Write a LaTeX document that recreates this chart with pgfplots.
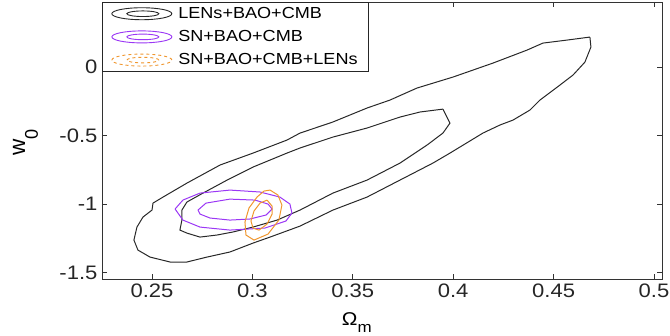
\documentclass[border=0pt]{standalone}
\usepackage{fontspec}
\setmainfont[FakeStretch=1.13]{Liberation Sans}
\usepackage{pgfplots}
\pgfplotsset{compat=1.18}
\definecolor{cblack}{RGB}{40,40,40}
\definecolor{cpurple}{RGB}{155,55,245}
\definecolor{corange}{RGB}{240,150,45}
\pgfplotsset{ellipselegend/.style={legend image code/.code={%
  \draw[##1] (30pt,0pt) ellipse [x radius=30pt, y radius=6pt];
  \draw[##1] (31pt,0pt) ellipse [x radius=16pt, y radius=2.8pt];}}}
\begin{document}
\begin{tikzpicture}
\useasboundingbox (-102pt,-57pt) rectangle (568pt,279pt);
\begin{axis}[
  at={(0,0)}, anchor=south west,
  width=560pt, height=277pt, scale only axis,
  xmin=0.2251, xmax=0.504, ymin=-1.547, ymax=0.475,
  xtick={0.25,0.3,0.35,0.4,0.45,0.5},
  xticklabels={0.25,0.3,0.35,0.4,0.45,0.5},
  ytick={-1.5,-1,-0.5,0},
  yticklabels={-1.5,-1,-0.5,0},
  tick align=inside, major tick length=5pt,
  axis line style={black!80, line width=0.8pt},
  every tick/.style={black!80, line width=0.8pt},
  ticklabel style={font=\fontsize{19.5}{20}\selectfont, text=black!85},
  xticklabel style={yshift=-1pt},
  yticklabel style={xshift=-1pt},
  xlabel={Ω\raisebox{-7.5pt}{\fontsize{15}{15}\selectfont m}},
  xlabel style={at={(axis description cs:0.455,0)}, anchor=north, yshift=-30pt, font=\fontsize{18.5}{20}\selectfont},
  ylabel={\scalebox{1}[1.15]{w\raisebox{-11pt}{\fontsize{16}{16}\selectfont 0}}},
  ylabel style={at={(axis description cs:-0.1366,0.493)}, anchor=center, font=\fontsize{20}{20}\selectfont},
  legend cell align=left,
  legend style={at={(axis description cs:0,1)}, anchor=north west, draw=black!85, line width=0.8pt, fill=white,
    font=\fontsize{16}{17}\selectfont, inner xsep=9pt, inner ysep=3pt, row sep=6.5pt,
    nodes={inner sep=2pt}, column sep=4pt},
]
\addlegendimage{cblack, line width=0.9pt, ellipselegend}
\addlegendentry{LENs+BAO+CMB}
\addlegendimage{cpurple, line width=0.9pt, ellipselegend}
\addlegendentry{SN+BAO+CMB}
\addlegendimage{corange, line width=0.9pt, dashed, ellipselegend}
\addlegendentry{SN+BAO+CMB+LENs}
% LENs+BAO+CMB outer
\addplot[cblack, line width=1pt, forget plot] coordinates {
(0.4681,0.219) (0.4567,0.197) (0.4447,0.175) (0.4368,0.124) (0.4198,0.029)
(0.3999,-0.073) (0.3820,-0.153) (0.3685,-0.241) (0.3571,-0.299) (0.3401,-0.401)
(0.3237,-0.482) (0.3172,-0.533) (0.3003,-0.628) (0.2839,-0.715) (0.2674,-0.847)
(0.2555,-0.949) (0.2505,-0.993) (0.2500,-1.044) (0.2455,-1.095) (0.2425,-1.168)
(0.2410,-1.263) (0.2430,-1.336) (0.2490,-1.387) (0.2590,-1.423) (0.2674,-1.423)
(0.2774,-1.387) (0.2888,-1.350) (0.3003,-1.285) (0.3088,-1.241) (0.3237,-1.161)
(0.3401,-1.044) (0.3571,-0.949) (0.3735,-0.825) (0.3899,-0.701) (0.3984,-0.628)
(0.4148,-0.482) (0.4233,-0.423) (0.4298,-0.387) (0.4382,-0.314) (0.4432,-0.241)
(0.4532,-0.131) (0.4597,-0.058) (0.4656,0.036) (0.4686,0.146) (0.4681,0.219)};
% LENs+BAO+CMB inner
\addplot[cblack, line width=1pt, forget plot] coordinates {
(0.3949,-0.307) (0.3835,-0.328) (0.3735,-0.365) (0.3571,-0.445) (0.3401,-0.511)
(0.3237,-0.591) (0.3172,-0.628) (0.3003,-0.730) (0.2874,-0.825) (0.2754,-0.920)
(0.2674,-0.985) (0.2649,-1.044) (0.2649,-1.117) (0.2639,-1.190) (0.2674,-1.212)
(0.2739,-1.241) (0.2824,-1.226) (0.2903,-1.204) (0.3003,-1.168) (0.3123,-1.117)
(0.3237,-1.044) (0.3401,-0.920) (0.3571,-0.825) (0.3735,-0.701) (0.3870,-0.569)
(0.3949,-0.482) (0.3984,-0.409) (0.3949,-0.307)};
% SN+BAO+CMB outer
\addplot[cpurple, line width=1pt, forget plot] coordinates {
(0.2615,-1.036) (0.2654,-0.971) (0.2739,-0.920) (0.2888,-0.898) (0.3038,-0.912)
(0.3137,-0.949) (0.3187,-1.000) (0.3197,-1.066) (0.3167,-1.124) (0.3063,-1.175)
(0.2888,-1.190) (0.2739,-1.168) (0.2654,-1.117) (0.2615,-1.036)};
% SN+BAO+CMB inner
\addplot[cpurple, line width=1pt, forget plot] coordinates {
(0.2729,-1.044) (0.2769,-0.993) (0.2888,-0.964) (0.3013,-0.971) (0.3078,-1.000)
(0.3098,-1.036) (0.3068,-1.080) (0.2988,-1.109) (0.2888,-1.117) (0.2789,-1.102)
(0.2739,-1.073) (0.2729,-1.044)};
% SN+BAO+CMB+LENs outer
\addplot[corange, line width=1pt, forget plot] coordinates {
(0.3088,-0.898) (0.3127,-0.934) (0.3147,-1.007) (0.3132,-1.117) (0.3078,-1.219)
(0.3008,-1.263) (0.2968,-1.226) (0.2963,-1.131) (0.2983,-1.029) (0.3023,-0.949)
(0.3058,-0.905) (0.3088,-0.898)};
% SN+BAO+CMB+LENs inner
\addplot[corange, line width=1pt, forget plot] coordinates {
(0.3073,-0.971) (0.3098,-1.015) (0.3098,-1.073) (0.3073,-1.146) (0.3033,-1.190)
(0.3003,-1.175) (0.2993,-1.124) (0.3008,-1.051) (0.3038,-0.993) (0.3073,-0.971)};
\end{axis}
\end{tikzpicture}
\end{document}
